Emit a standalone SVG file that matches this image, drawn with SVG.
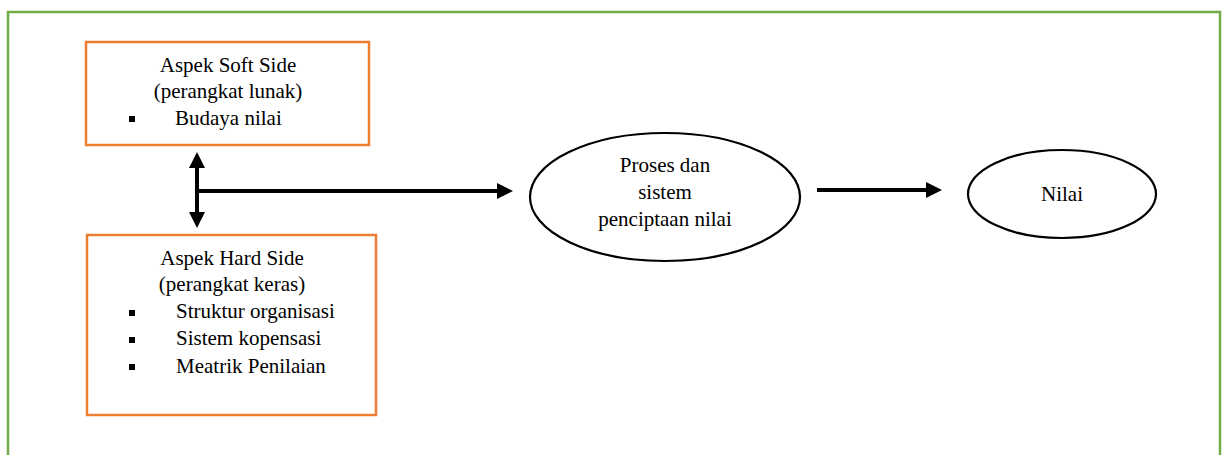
<svg xmlns="http://www.w3.org/2000/svg" width="1223" height="455" viewBox="0 0 1223 455">
<style>
text{font-family:"Liberation Serif","Times New Roman",serif;font-size:21px;fill:#000}
.c{text-anchor:middle}
.box{fill:#fff;stroke:#ED7D31;stroke-width:2.5}
.ell{fill:#fff;stroke:#000;stroke-width:2.2}
.con{stroke:#000;stroke-width:4;fill:none}
</style>
<defs>
<marker id="ah" markerUnits="userSpaceOnUse" markerWidth="16" markerHeight="16" viewBox="0 0 16 16" refX="2" refY="8" orient="auto-start-reverse">
<path d="M0,0 L16,8 L0,16 z" fill="#000"/>
</marker>
</defs>
<rect x="0" y="0" width="1223" height="455" fill="#fff"/>
<path d="M8,460 L8,12 L1220,12 L1220,460" fill="none" stroke="#70AD47" stroke-width="2.5"/>
<g id="soft">
<rect class="box" x="86" y="42" width="283" height="103"/>
<text class="c" x="228" y="72">Aspek Soft Side</text>
<text class="c" x="228" y="98">(perangkat lunak)</text>
<rect x="129" y="116" width="6" height="6" fill="#000"/>
<text x="175" y="125">Budaya nilai</text>
</g>
<g id="hard">
<rect class="box" x="87" y="235" width="289" height="180"/>
<text class="c" x="232" y="265">Aspek Hard Side</text>
<text class="c" x="232" y="291">(perangkat keras)</text>
<rect x="129" y="310" width="6" height="6" fill="#000"/>
<text x="176" y="318">Struktur organisasi</text>
<rect x="129" y="337" width="6" height="6" fill="#000"/>
<text x="176" y="345">Sistem kopensasi</text>
<rect x="129" y="364" width="6" height="6" fill="#000"/>
<text x="176" y="373">Meatrik Penilaian</text>
</g>
<g id="proses">
<ellipse class="ell" cx="665" cy="197" rx="135" ry="64"/>
<text class="c" x="665" y="172">Proses dan</text>
<text class="c" x="665" y="199">sistem</text>
<text class="c" x="665" y="226">penciptaan nilai</text>
</g>
<g id="nilai">
<ellipse class="ell" cx="1062" cy="194" rx="94" ry="44"/>
<text class="c" x="1062" y="201">Nilai</text>
</g>
<g id="connectors">
<line class="con" x1="197" y1="166" x2="197" y2="214" marker-start="url(#ah)" marker-end="url(#ah)"/>
<line class="con" x1="197" y1="191" x2="499" y2="191" marker-end="url(#ah)"/>
<line class="con" x1="817" y1="190" x2="928" y2="190" marker-end="url(#ah)"/>
</g>
</svg>
